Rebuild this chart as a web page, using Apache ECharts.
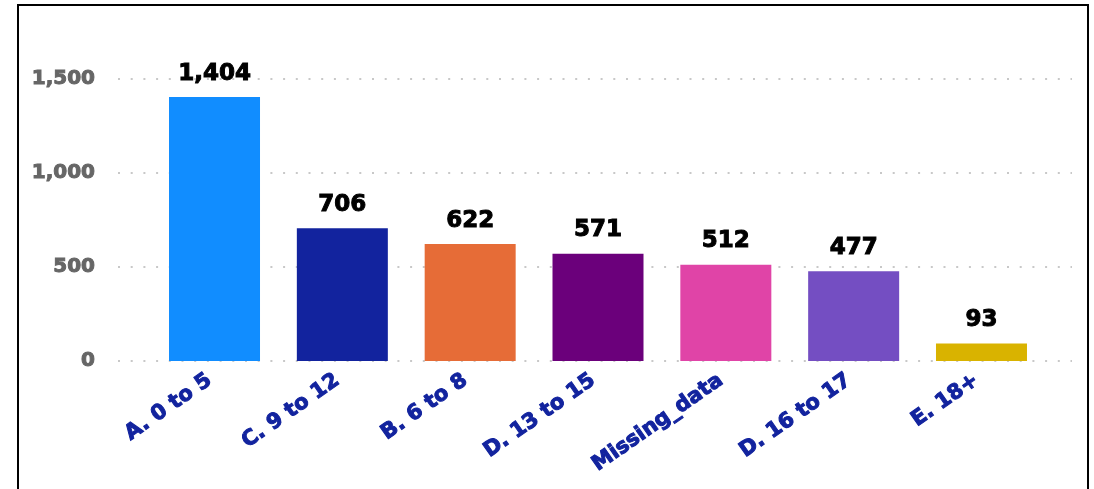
<!DOCTYPE html>
<html>
<head>
<meta charset="utf-8">
<script src="https://cdn.jsdelivr.net/npm/echarts@6/dist/echarts.min.js"></script>
<style>
  html, body { margin: 0; padding: 0; background: #fff; overflow: hidden; }
  #chart { position: absolute; left: 0; top: 0; width: 1094px; height: 489px; }
  #frame { position: absolute; left: 17px; top: 4px; width: 1068px; height: 700px; border: 2px solid #000; pointer-events: none; }
</style>
</head>
<body>
<div id="chart"></div>
<div id="frame"></div>
<script>
const categories = ['A. 0 to 5', 'C. 9 to 12', 'B. 6 to 8', 'D. 13 to 15', 'Missing_data', 'D. 16 to 17', 'E. 18+'];
const values = [1404, 706, 622, 571, 512, 477, 93];
const yTicks = [0, 500, 1000, 1500];
const palette = ['#118DFF', '#12239E', '#E66C37', '#6B007B', '#E044A7', '#744EC2', '#D9B300'];

const fmt = v => Number(v).toLocaleString('en-US');
const chart = echarts.init(document.getElementById('chart'), null, { renderer: 'canvas' });
chart.setOption({
  animation: false,
  color: palette,
  grid: [
    { left: 150.6, right: 48.6, top: 79, bottom: 128 },
    { left: 118, right: 22, top: 79, bottom: 128 }
  ],
  xAxis: [
    {
      type: 'category', gridIndex: 0, data: categories,
      axisLine: { show: false }, axisTick: { show: false },
      axisLabel: {
        rotate: 35, margin: 14, interval: 0,
        padding: [0, 6, 0, 0],
        color: '#12239E', fontFamily: 'DejaVu Sans', fontWeight: 'bold', fontSize: 21,
        textBorderColor: '#12239E', textBorderWidth: 1
      }
    },
    { type: 'value', gridIndex: 1, show: false, min: 0, max: 1 }
  ],
  yAxis: [
    { type: 'value', gridIndex: 0, min: yTicks[0], max: yTicks[yTicks.length - 1], interval: 500, show: false, splitLine: { show: false } },
    {
      type: 'value', gridIndex: 1, min: yTicks[0], max: yTicks[yTicks.length - 1], interval: 500,
      axisLine: { show: false }, axisTick: { show: false },
      axisLabel: {
        margin: 23, color: '#666666', fontFamily: 'DejaVu Sans', fontWeight: 'bold', fontSize: 20,
        textBorderColor: '#666666', textBorderWidth: 1,
        formatter: v => fmt(v)
      },
      splitLine: { show: true, lineStyle: { color: '#c8c8c8', width: 2, type: [2, 10.7] } }
    }
  ],
  series: [{
    type: 'bar', xAxisIndex: 0, yAxisIndex: 0,
    data: values, colorBy: 'data', barWidth: 91,
    label: {
      show: true, position: 'top', distance: 12,
      color: '#000', fontFamily: 'DejaVu Sans', fontWeight: 'bold', fontSize: 23,
      textBorderColor: '#000', textBorderWidth: 1,
      formatter: p => fmt(p.value)
    }
  }]
});
</script>
</body>
</html>
